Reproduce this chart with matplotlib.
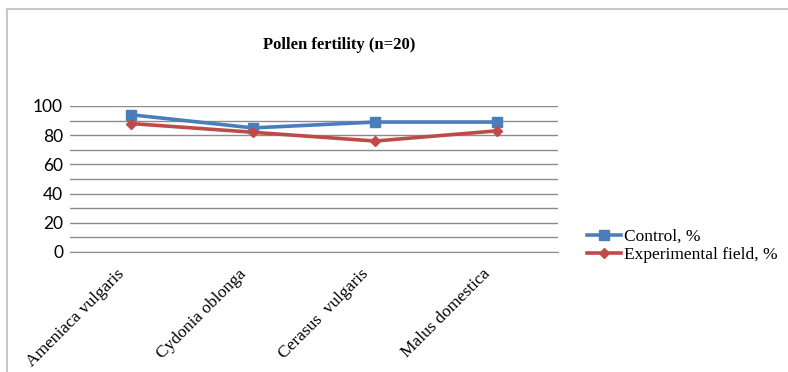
import matplotlib
matplotlib.use("Agg")
import matplotlib.pyplot as plt
import matplotlib.transforms as mtransforms
from matplotlib.lines import Line2D

categories = ["Ameniaca vulgaris", "Cydonia oblonga", "Cerasus  vulgaris", "Malus domestica"]
control = [94, 85, 89, 89]
experimental = [88, 82, 76, 83]
y_ticks = [0, 20, 40, 60, 80, 100]

W, H = 788, 372
fig = plt.figure(figsize=(W / 100, H / 100), dpi=100)

# plot area in pixel coords: x 70..558, y 106..252
ax = fig.add_axes([70 / W, 1 - 252 / H, 488 / W, 146 / H])

x = range(len(categories))
ax.plot(x, control, color="#4a7ebb", lw=2.6, marker="s", ms=7,
        label="Control, %")
ax.plot(x, experimental, color="#be4b48", lw=2.6, marker="D", ms=5,
        label="Experimental field, %")

ax.set_xlim(-0.5, len(categories) - 0.5)
ax.set_ylim(0, 100)
ax.set_yticks(y_ticks)
ax.set_yticks(range(0, 101, 10), minor=True)
ax.grid(True, which="both", axis="y", color="#8c8c8c", lw=1)
ax.set_axisbelow(True)
for s in ["top", "right", "left"]:
    ax.spines[s].set_visible(False)
ax.spines["bottom"].set_color("#8c8c8c")
ax.tick_params(axis="y", which="both", length=0, pad=5)
ax.tick_params(axis="x", length=0, pad=10)
for lab in ax.get_yticklabels():
    lab.set_fontfamily("Lato")
    lab.set_fontsize(12.5)
ax.set_xticks(list(x))
ax.set_xticklabels(categories, rotation=45, ha="right", rotation_mode="anchor",
                   fontfamily="Liberation Serif", fontsize=12.5)
# nudge labels left so the end sits just left of each point
shift = mtransforms.ScaledTranslation(-0.15, 0, fig.dpi_scale_trans)
for lab in ax.get_xticklabels():
    lab.set_transform(lab.get_transform() + shift)

fig.text(339 / W, 1 - 45 / H, "Pollen fertility (n=20)", ha="center", va="center",
         fontfamily="Liberation Serif", fontweight="bold", fontsize=12)

leg = fig.legend(loc="center left", bbox_to_anchor=(571 / W, 1 - 246 / H),
                 frameon=False, prop={"family": "Liberation Serif", "size": 12.5},
                 handlelength=2.0, handletextpad=0.15, labelspacing=0.15)

# chart border (top and left visible)
fig.add_artist(Line2D([7 / W, 1], [1 - 9 / H, 1 - 9 / H], color="#c8c8c8", lw=1.5))
fig.add_artist(Line2D([7 / W, 7 / W], [0, 1 - 9 / H], color="#c8c8c8", lw=1.5))

fig.savefig("out.png", dpi=100)
